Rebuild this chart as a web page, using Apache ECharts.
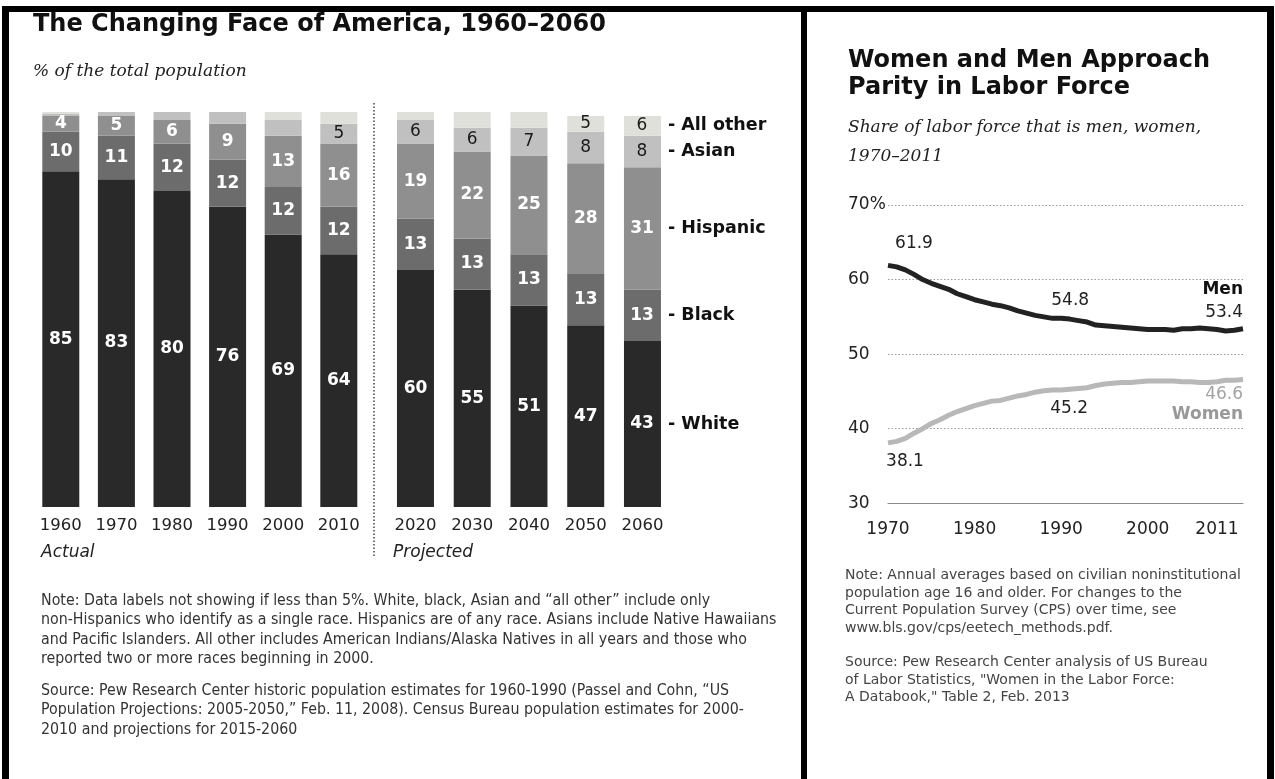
<!DOCTYPE html>
<html><head><meta charset="utf-8">
<script src="https://cdn.jsdelivr.net/npm/echarts@6/dist/echarts.min.js"></script>
<style>html,body{margin:0;padding:0;background:#fff}#c{width:1275px;height:779px}</style>
</head><body><div id="c"></div>
<script>
// ---- Left chart data: % of total population ----
const years = ['1960','1970','1980','1990','2000','2010','2020','2030','2040','2050','2060'];
const white    = [85, 83, 80, 76, 69, 64, 60, 55, 51, 46, 42];
const black    = [10, 11, 12, 12, 12, 12, 13, 13, 13, 13, 13];
const hispanic = [4, 5, 6, 9, 13, 16, 19, 22, 25, 28, 31];
const asian    = [0.6, 1, 2, 3, 4, 5, 6, 6, 7, 8, 8];
const allOther = [0.4, 0, 0, 0, 2, 3, 2, 4, 4, 4, 5];
const whiteLabels    = ['85','83','80','76','69','64','60','55','51','47','43'];
const blackLabels    = ['10','11','12','12','12','12','13','13','13','13','13'];
const hispanicLabels = ['4','5','6','9','13','16','19','22','25','28','31'];
const asianLabels    = ['','','','','','5','6','6','7','8','8'];
const allOtherLabels = ['','','','','','','','','','5','6'];
const raceNames = ['White','Black','Hispanic','Asian','All other'];

// ---- Right chart data: share of labor force ----
const laborYears = [1970,1971,1972,1973,1974,1975,1976,1977,1978,1979,1980,1981,1982,1983,1984,1985,1986,1987,1988,1989,1990,1991,1992,1993,1994,1995,1996,1997,1998,1999,2000,2001,2002,2003,2004,2005,2006,2007,2008,2009,2010,2011];
const men   = [61.9,61.7,61.3,60.7,60.0,59.5,59.1,58.7,58.1,57.7,57.3,57.0,56.7,56.5,56.2,55.8,55.5,55.2,55.0,54.8,54.8,54.7,54.5,54.3,53.9,53.8,53.7,53.6,53.5,53.4,53.3,53.3,53.3,53.2,53.4,53.4,53.5,53.4,53.3,53.1,53.2,53.4];
const women = [38.1,38.3,38.7,39.4,40.0,40.7,41.2,41.8,42.3,42.7,43.1,43.4,43.7,43.8,44.1,44.4,44.6,44.9,45.1,45.2,45.2,45.3,45.4,45.5,45.8,46.0,46.1,46.2,46.2,46.3,46.4,46.4,46.4,46.4,46.3,46.3,46.2,46.2,46.3,46.5,46.5,46.6];
const xTickYears = [1970,1980,1990,2000,2011];
const yTicks = [30,40,50,60,70];

const chart = echarts.init(document.getElementById('c'), null, {renderer:'canvas'});
const SANS = 'DejaVu Sans';

const races = [
  {name:raceNames[0], values:white,    labels:whiteLabels,    color:'#292929', text:'#ffffff', bold:true},
  {name:raceNames[1], values:black,    labels:blackLabels,    color:'#6c6c6c', text:'#ffffff', bold:true},
  {name:raceNames[2], values:hispanic, labels:hispanicLabels, color:'#8f8f8f', text:'#ffffff', bold:true},
  {name:raceNames[3], values:asian,    labels:asianLabels,    color:'#c0c0c0', text:'#1a1a1a', bold:false},
  {name:raceNames[4], values:allOther, labels:allOtherLabels, color:'#e0e0da', text:'#1a1a1a', bold:false}
];

function barSeries(r, gi, start, end) {
  const lastIdx = years.length - 1;
  return {
    type:'bar', name:r.name, stack:'s'+gi, xAxisIndex:gi, yAxisIndex:gi,
    barWidth:37, itemStyle:{color:r.color}, animation:false,
    label:{show:true, position:'inside', color:r.text, fontFamily:SANS,
      fontWeight:r.bold?'bold':'normal', fontSize:17,
      formatter:p => r.labels[start + p.dataIndex]},
    data: r.values.slice(start, end).map((v, i) => {
      const idx = start + i;
      const item = {value:v, label:{show:r.labels[idx] !== ''}};
      if (idx === lastIdx) {
        item.label = {show:true, position:'insideLeft', distance:2,
          formatter:'{n|' + r.labels[idx] + '}{t|- ' + r.name + '}',
          rich:{
            n:{width:32, align:'center', color:r.text, fontFamily:SANS, fontWeight:r.bold?'bold':'normal', fontSize:17},
            t:{color:'#111', fontFamily:SANS, fontWeight:'bold', fontSize:17.5, padding:[0,0,0,10]}
          }};
      }
      return item;
    })
  };
}

const series = [];
races.forEach(r => series.push(barSeries(r, 0, 0, 6)));
races.forEach(r => series.push(barSeries(r, 1, 6, 11)));

function lineData(vals, labelCfg) {
  return laborYears.map((y, i) => {
    const item = {value:[y, vals[i]]};
    if (labelCfg[i]) item.label = Object.assign({show:true}, labelCfg[i]);
    return item;
  });
}
const numStyle = {fontFamily:SANS, fontSize:17, color:'#222'};
const menLabels = {
  0:  Object.assign({position:'top', distance:5, offset:[26,-8], formatter:'61.9'}, numStyle),
  20: Object.assign({position:'top', distance:5, offset:[9,-4], formatter:'54.8'}, numStyle),
  41: {position:'top', distance:5, align:'right', formatter:'{b|Men}\n{v|53.4}',
       rich:{b:{fontFamily:SANS, fontSize:17, fontWeight:'bold', color:'#111', lineHeight:23, align:'right'},
             v:{fontFamily:SANS, fontSize:17, color:'#222', lineHeight:23, align:'right'}}}
};
const womenLabels = {
  0:  Object.assign({position:'bottom', distance:5, offset:[17,5], formatter:'38.1'}, numStyle),
  20: Object.assign({position:'bottom', distance:5, offset:[8,5], formatter:'45.2'}, numStyle),
  41: {position:'bottom', distance:5, align:'right', formatter:'{v|46.6}\n{b|Women}',
       rich:{v:{fontFamily:SANS, fontSize:17, color:'#a3a3a3', lineHeight:20, align:'right'},
             b:{fontFamily:SANS, fontSize:17, fontWeight:'bold', color:'#999', lineHeight:20, align:'right'}}}
};
series.push({type:'line', name:'Men', xAxisIndex:2, yAxisIndex:2, animation:false,
  symbol:'circle', symbolSize:0, showSymbol:true, lineStyle:{color:'#222', width:5}, itemStyle:{color:'#222'},
  label:{show:false}, data:lineData(men, menLabels), z:5});
series.push({type:'line', name:'Women', xAxisIndex:2, yAxisIndex:2, animation:false,
  symbol:'circle', symbolSize:0, showSymbol:true, lineStyle:{color:'#b8b8b8', width:5}, itemStyle:{color:'#b8b8b8'},
  label:{show:false}, data:lineData(women, womenLabels), z:4});

const catAxis = (data, gi) => ({type:'category', gridIndex:gi, data:data,
  axisLine:{show:false}, axisTick:{show:false},
  axisLabel:{fontFamily:SANS, fontSize:16.5, color:'#222', margin:10, interval:0}});

const noteStyle = {fontFamily:"'DejaVu Sans Condensed', 'Liberation Sans Narrow', 'Liberation Sans'", fontSize:15.8, fill:'#333', lineHeight:19.5};
const rnoteStyle = {fontFamily:SANS, fontSize:14, fill:'#444', lineHeight:17.4};

const graphic = [
  // frame
  {type:'rect', shape:{x:2, y:6, width:1272, height:6}, style:{fill:'#000'}},
  {type:'rect', shape:{x:2, y:6, width:7, height:773}, style:{fill:'#000'}},
  {type:'rect', shape:{x:801, y:6, width:6, height:773}, style:{fill:'#000'}},
  {type:'rect', shape:{x:1267, y:6, width:7, height:773}, style:{fill:'#000'}},
  // left titles
  {type:'text', x:33, y:25, style:{text:'The Changing Face of America, 1960\u20132060', fontFamily:SANS, fontWeight:'bold', fontSize:24, fill:'#111', verticalAlign:'middle'}},
  {type:'text', x:33, y:72, style:{text:'% of the total population', fontFamily:'DejaVu Serif', fontStyle:'italic', fontSize:17, fill:'#222', verticalAlign:'middle'}},
  // separator
  {type:'line', shape:{x1:374, y1:103, x2:374, y2:556}, style:{stroke:'#444', lineWidth:1.5, lineDash:[1.5,2]}},
  {type:'text', x:41, y:553, style:{text:'Actual', fontFamily:SANS, fontStyle:'italic', fontSize:17, fill:'#222', verticalAlign:'middle'}},
  {type:'text', x:393, y:553, style:{text:'Projected', fontFamily:SANS, fontStyle:'italic', fontSize:17, fill:'#222', verticalAlign:'middle'}},
  // left notes
  {type:'text', x:41, y:591, style:Object.assign({text:'Note: Data labels not showing if less than 5%. White, black, Asian and \u201call other\u201d include only\nnon-Hispanics who identify as a single race. Hispanics are of any race. Asians include Native Hawaiians\nand Pacific Islanders. All other includes American Indians/Alaska Natives in all years and those who\nreported two or more races beginning in 2000.'}, noteStyle)},
  {type:'text', x:41, y:681, style:Object.assign({text:'Source: Pew Research Center historic population estimates for 1960-1990 (Passel and Cohn, \u201cUS\nPopulation Projections: 2005-2050,\u201d Feb. 11, 2008). Census Bureau population estimates for 2000-\n2010 and projections for 2015-2060'}, noteStyle)},
  // right titles
  {type:'text', x:848, y:47, style:{text:'Women and Men Approach\nParity in Labor Force', fontFamily:SANS, fontWeight:'bold', fontSize:24, lineHeight:27, fill:'#111'}},
  {type:'text', x:848, y:128, style:{text:'Share of labor force that is men, women,', fontFamily:'DejaVu Serif', fontStyle:'italic', fontSize:17, fill:'#222', verticalAlign:'middle'}},
  {type:'text', x:848, y:157, style:{text:'1970\u20132011', fontFamily:'DejaVu Serif', fontStyle:'italic', fontSize:17, fill:'#222', verticalAlign:'middle'}},
  // right notes
  {type:'text', x:845, y:567, style:Object.assign({text:'Note: Annual averages based on civilian noninstitutional\npopulation age 16 and older. For changes to the\nCurrent Population Survey (CPS) over time, see\nwww.bls.gov/cps/eetech_methods.pdf.'}, rnoteStyle)},
  {type:'text', x:845, y:654, style:Object.assign({text:'Source: Pew Research Center analysis of US Bureau\nof Labor Statistics, "Women in the Labor Force:\nA Databook," Table 2, Feb. 2013'}, rnoteStyle)}
];

chart.setOption({
  animation:false,
  backgroundColor:'#fff',
  grid:[
    {left:33, top:112, width:333.6, height:395},
    {left:387.1, top:112, width:283.75, height:395},
    {left:888, top:205, width:355, height:298.3}
  ],
  xAxis:[
    catAxis(years.slice(0,6), 0),
    catAxis(years.slice(6), 1),
    {type:'value', gridIndex:2, min:1970, max:2011,
     axisLine:{show:true, lineStyle:{color:'#8a8a8a', width:1.2}}, axisTick:{show:false}, splitLine:{show:false},
     axisLabel:{fontFamily:SANS, fontSize:17, color:'#222', margin:18, customValues:xTickYears,
       formatter:v => v === 2011 ? '{r|2011}' : String(v),
       rich:{r:{fontFamily:SANS, fontSize:17, color:'#222', padding:[0,52,0,0]}}}}
  ],
  yAxis:[
    {type:'value', gridIndex:0, min:0, max:100, show:false},
    {type:'value', gridIndex:1, min:0, max:100, show:false},
    {type:'value', gridIndex:2, min:30, max:70, interval:10,
     axisLine:{show:false}, axisTick:{show:false},
     splitLine:{show:true, lineStyle:{color:'#9a9a9a', type:[1.5,2], width:1.2}},
     axisLabel:{fontFamily:SANS, fontSize:17, color:'#222', align:'left', margin:40,
       customValues:yTicks, formatter:v => v === 70 ? '70%' : String(v)}}
  ],
  series:series,
  graphic:graphic
});
</script>
</body></html>
